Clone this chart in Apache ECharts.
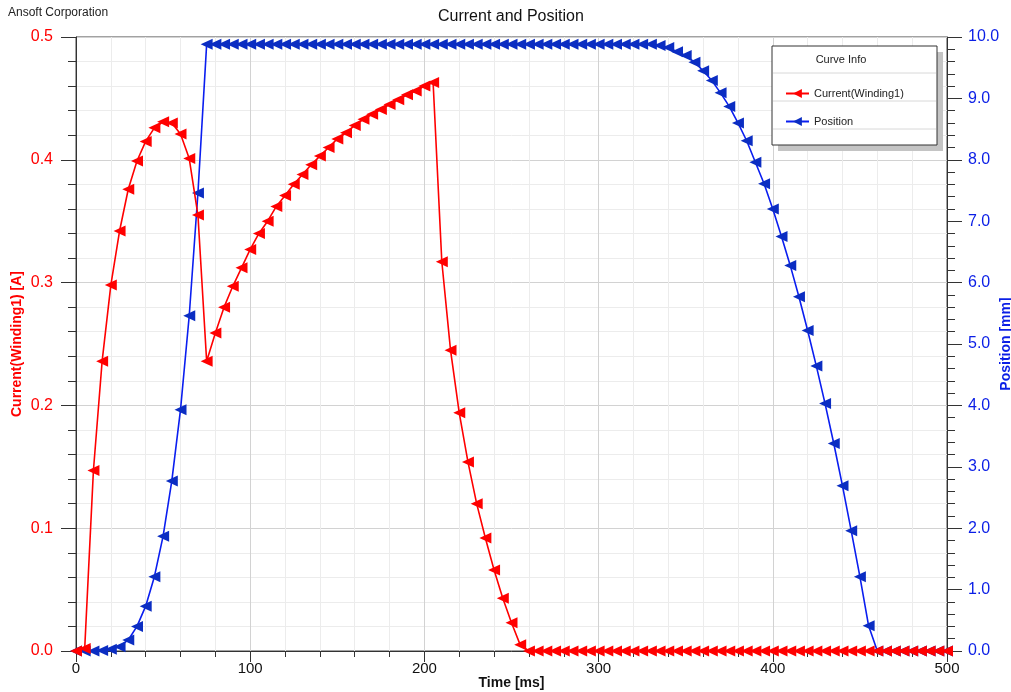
<!DOCTYPE html>
<html>
<head>
<meta charset="utf-8">
<title>Current and Position</title>
<script src="https://cdn.jsdelivr.net/npm/echarts@6/dist/echarts.min.js"></script>
<style>
  html, body { margin: 0; padding: 0; background: #fff; }
  #chart { width: 1011px; height: 692px; }
</style>
</head>
<body>
<div id="chart"></div>
<script>
// sample times [ms], one marker every 5 ms
const times = [
  0, 5, 10, 15, 20, 25, 30, 35, 40, 45, 50, 55, 60, 65, 70, 75, 80, 85, 90, 95,
  100, 105, 110, 115, 120, 125, 130, 135, 140, 145, 150, 155, 160, 165, 170, 175, 180, 185, 190, 195,
  200, 205, 210, 215, 220, 225, 230, 235, 240, 245, 250, 255, 260, 265, 270, 275, 280, 285, 290, 295,
  300, 305, 310, 315, 320, 325, 330, 335, 340, 345, 350, 355, 360, 365, 370, 375, 380, 385, 390, 395,
  400, 405, 410, 415, 420, 425, 430, 435, 440, 445, 450, 455, 460, 465, 470, 475, 480, 485, 490, 495,
  500
];

// Current(Winding1) [A]
const current = [
  0, 0.002, 0.147, 0.236, 0.298, 0.342, 0.376, 0.399, 0.415, 0.426, 0.431, 0.430, 0.421, 0.401, 0.355, 0.236, 0.259, 0.280, 0.297, 0.312,
  0.327, 0.340, 0.350, 0.362, 0.371, 0.380, 0.388, 0.396, 0.403, 0.410, 0.417, 0.422, 0.428, 0.433, 0.437, 0.441, 0.445, 0.449, 0.453, 0.456,
  0.460, 0.463, 0.317, 0.245, 0.194, 0.154, 0.120, 0.092, 0.066, 0.043, 0.023, 0.005, 0, 0, 0, 0, 0, 0, 0, 0,
  0, 0, 0, 0, 0, 0, 0, 0, 0, 0, 0, 0, 0, 0, 0, 0, 0, 0, 0, 0,
  0, 0, 0, 0, 0, 0, 0, 0, 0, 0, 0, 0, 0, 0, 0, 0, 0, 0, 0, 0,
  0
];

// Position [mm]
const position = [
  0, 0, 0, 0.01, 0.03, 0.07, 0.18, 0.40, 0.73, 1.21, 1.87, 2.77, 3.93, 5.46, 7.46, 9.88, 9.88, 9.88, 9.88, 9.88,
  9.88, 9.88, 9.88, 9.88, 9.88, 9.88, 9.88, 9.88, 9.88, 9.88, 9.88, 9.88, 9.88, 9.88, 9.88, 9.88, 9.88, 9.88, 9.88, 9.88,
  9.88, 9.88, 9.88, 9.88, 9.88, 9.88, 9.88, 9.88, 9.88, 9.88, 9.88, 9.88, 9.88, 9.88, 9.88, 9.88, 9.88, 9.88, 9.88, 9.88,
  9.88, 9.88, 9.88, 9.88, 9.88, 9.88, 9.88, 9.86, 9.83, 9.76, 9.70, 9.59, 9.45, 9.29, 9.09, 8.87, 8.60, 8.31, 7.96, 7.61,
  7.20, 6.75, 6.28, 5.77, 5.22, 4.64, 4.03, 3.38, 2.69, 1.96, 1.21, 0.41, 0, 0, 0, 0, 0, 0, 0, 0,
  0
];

(function () {
  const FONT = "Liberation Sans, Arial, sans-serif";
  const leftArrow = "path://M0,6L12,0L12,12Z";

  const chart = echarts.init(document.getElementById("chart"));

  const option = {
    animation: false,
    textStyle: { fontFamily: FONT },
    title: {
      text: "Current and Position",
      left: 433,
      top: 4,
      textStyle: { fontSize: 16, fontWeight: "normal", color: "#111", fontFamily: FONT },
    },
    grid: {
      left: 76,
      right: 64,
      top: 37,
      bottom: 41,
      outerBoundsMode: "none",
      containLabel: false,
      show: true,
      borderColor: "#444",
      borderWidth: 1,
    },
    legend: {
      orient: "vertical",
      left: 780,
      top: 83,
      z: 30,
      itemWidth: 23,
      itemHeight: 11,
      itemGap: 17,
      data: ["Current(Winding1)", "Position"],
      textStyle: { fontSize: 11, color: "#222", fontFamily: FONT },
    },
    xAxis: {
      type: "value",
      min: 0,
      max: 500,
      interval: 100,
      name: "Time [ms]",
      nameLocation: "middle",
      nameMoveOverlap: false,
      nameGap: 25,
      nameTextStyle: { fontSize: 14, fontWeight: "bold", color: "#111" },
      axisLine: { show: true, lineStyle: { color: "#333" } },
      axisTick: { show: true, length: 11, lineStyle: { color: "#333" } },
      minorTick: { show: true, splitNumber: 5, length: 6, lineStyle: { color: "#333" } },
      axisLabel: { fontSize: 15, color: "#111", margin: 10 },
      splitLine: { show: true, lineStyle: { color: "#d2d2d2" } },
      minorSplitLine: { show: true, lineStyle: { color: "#ececec" } },
    },
    yAxis: [
      {
        type: "value",
        position: "left",
        min: 0,
        max: 0.5,
        interval: 0.1,
        name: "Current(Winding1) [A]",
        nameLocation: "middle",
        nameMoveOverlap: false,
        nameRotate: 90,
        nameGap: 52,
        nameTextStyle: { fontSize: 14, fontWeight: "bold", color: "#ff0000" },
        axisLine: { show: true, lineStyle: { color: "#333" } },
        axisTick: { show: true, length: 15, lineStyle: { color: "#333" } },
        minorTick: { show: true, splitNumber: 5, length: 8, lineStyle: { color: "#333" } },
        axisLabel: {
          fontSize: 16,
          color: "#ff0000",
          margin: 23,
          formatter: (v) => v.toFixed(1),
        },
        splitLine: { show: true, lineStyle: { color: "#d2d2d2" } },
        minorSplitLine: { show: true, lineStyle: { color: "#ececec" } },
      },
      {
        type: "value",
        position: "right",
        min: 0,
        max: 10,
        interval: 1,
        name: "Position [mm]",
        nameLocation: "middle",
        nameMoveOverlap: false,
        nameRotate: 90,
        nameGap: 52,
        nameTextStyle: { fontSize: 14, fontWeight: "bold", color: "#0a1ee6" },
        axisLine: { show: true, lineStyle: { color: "#333" } },
        axisTick: { show: true, length: 15, lineStyle: { color: "#333" } },
        minorTick: { show: true, splitNumber: 5, length: 8, lineStyle: { color: "#333" } },
        axisLabel: {
          fontSize: 16,
          color: "#0a1ee6",
          margin: 21,
          formatter: (v) => v.toFixed(1),
        },
        splitLine: { show: false },
        minorSplitLine: { show: false },
      },
    ],
    graphic: [
      // corner label
      {
        type: "text",
        x: 8,
        y: 7,
        style: { text: "Ansoft Corporation", font: "12px " + FONT, fill: "#222" },
      },
      // legend panel ("Curve Info")
      {
        type: "rect",
        shape: { x: 778, y: 52, width: 165, height: 99 },
        style: { fill: "#c4c4c4" },
        z: 20,
      },
      {
        type: "rect",
        shape: { x: 772, y: 46, width: 165, height: 99 },
        style: { fill: "#fff", stroke: "#333", lineWidth: 1 },
        z: 21,
      },
      {
        type: "text",
        x: 841,
        y: 60,
        style: {
          text: "Curve Info",
          font: "11px " + FONT,
          fill: "#222",
          textAlign: "center",
          textVerticalAlign: "middle",
        },
        z: 22,
      },
      { type: "line", shape: { x1: 773, y1: 73, x2: 936, y2: 73 }, style: { stroke: "#d8d8d8" }, z: 22 },
      { type: "line", shape: { x1: 773, y1: 101, x2: 936, y2: 101 }, style: { stroke: "#d8d8d8" }, z: 22 },
      { type: "line", shape: { x1: 773, y1: 129, x2: 936, y2: 129 }, style: { stroke: "#d8d8d8" }, z: 22 },
    ],
    series: [
      {
        name: "Position",
        type: "line",
        yAxisIndex: 1,
        data: times.map((t, i) => [t, position[i]]),
        symbol: leftArrow,
        symbolSize: [12, 11],
        showAllSymbol: true,
        lineStyle: { color: "#0a1ef0", width: 1.6 },
        itemStyle: { color: "#0b2dc2" },
        z: 3,
      },
      {
        name: "Current(Winding1)",
        type: "line",
        yAxisIndex: 0,
        data: times.map((t, i) => [t, current[i]]),
        symbol: leftArrow,
        symbolSize: [12, 11],
        showAllSymbol: true,
        lineStyle: { color: "#ff0000", width: 1.6 },
        itemStyle: { color: "#ff0000" },
        z: 4,
      },
    ],
  };

  chart.setOption(option);

  window.addEventListener("resize", () => {
    chart.resize();
  });
})();
</script>
</body>
</html>
